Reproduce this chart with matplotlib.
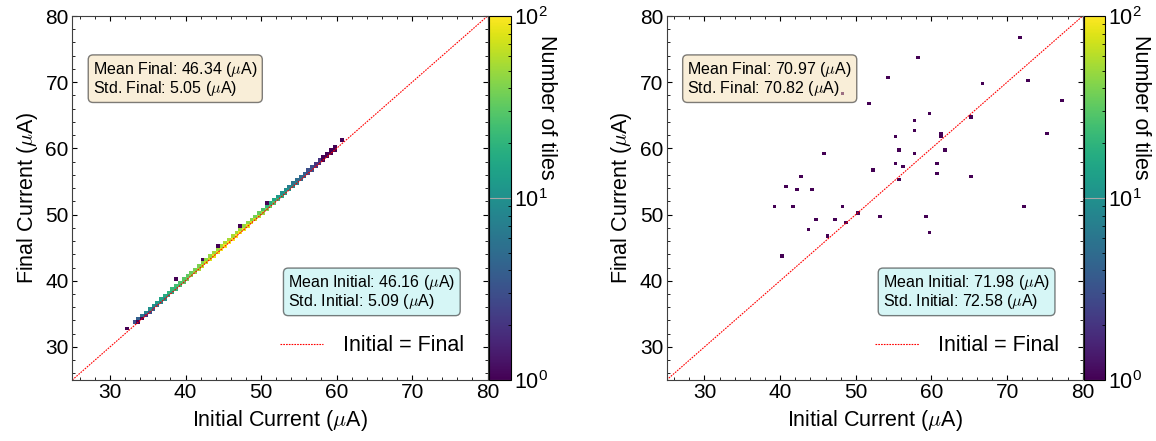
import numpy as np
import matplotlib
matplotlib.use("Agg")
import matplotlib.pyplot as plt
from matplotlib.colors import LogNorm
from matplotlib.ticker import AutoMinorLocator, LogLocator

plt.rcParams['font.family'] = ['Liberation Sans', 'DejaVu Sans']
plt.rcParams['mathtext.fontset'] = 'cm'

# left panel: 2D histogram cells (initial, final, number of tiles)
diag_initial = [33.75, 34.25, 34.75, 35.25, 35.75, 36.25, 36.75, 37.25, 37.75, 38.25,
                38.75, 39.25, 39.75, 40.25, 40.75, 41.25, 41.75, 42.25, 42.75, 43.25,
                43.75, 44.25, 44.75, 45.25, 45.75, 46.25, 46.75, 47.25, 47.75, 48.25,
                48.75, 49.25, 49.75, 50.25, 50.75, 51.25, 51.75, 52.25, 52.75, 53.25,
                53.75, 54.25, 54.75, 55.25, 55.75, 56.25, 56.75, 57.25, 57.75, 58.25,
                58.75, 59.25, 59.75]
diag_final = [33.75, 34.25, 34.75, 35.25, 35.75, 36.25, 36.75, 37.25, 37.75, 38.25,
              38.75, 39.25, 39.75, 40.25, 40.75, 41.25, 41.75, 42.25, 42.75, 43.25,
              43.75, 44.25, 44.75, 45.25, 45.75, 46.25, 46.75, 47.25, 47.75, 48.25,
              48.75, 49.25, 49.75, 50.25, 50.75, 51.25, 51.75, 52.25, 52.75, 53.25,
              53.75, 54.25, 54.75, 55.25, 55.75, 56.25, 56.75, 57.25, 57.75, 58.25,
              58.75, 59.25, 59.75]
diag_counts = [1, 1, 2, 3, 4, 6, 8, 10, 13, 16,
               20, 25, 30, 36, 42, 48, 55, 62, 70, 76,
               82, 88, 92, 96, 98, 98, 96, 92, 88, 82,
               76, 68, 60, 50, 42, 35, 28, 22, 18, 14,
               11, 9, 7, 5, 4, 3, 3, 2, 2, 1,
               1, 1, 1]

upper_initial = [32.25, 33.25, 33.75, 34.25, 34.75, 35.25, 35.75, 36.25, 36.75, 37.25,
                 37.75, 38.25, 38.75, 39.25, 39.75, 40.25, 40.75, 41.25, 41.75, 42.25,
                 42.75, 43.25, 43.75, 44.25, 44.75, 45.25, 45.75, 46.25, 46.75, 47.25,
                 47.75, 48.25, 48.75, 49.25, 49.75, 50.25, 50.75, 51.25, 51.75, 52.25,
                 52.75, 53.25, 53.75, 54.25, 54.75, 55.25, 55.75, 56.25, 56.75, 57.25,
                 57.75, 58.25, 58.75, 59.25, 59.75]
upper_final = [32.75, 33.75, 34.25, 34.75, 35.25, 35.75, 36.25, 36.75, 37.25, 37.75,
               38.25, 38.75, 39.25, 39.75, 40.25, 40.75, 41.25, 41.75, 42.25, 42.75,
               43.25, 43.75, 44.25, 44.75, 45.25, 45.75, 46.25, 46.75, 47.25, 47.75,
               48.25, 48.75, 49.25, 49.75, 50.25, 50.75, 51.25, 51.75, 52.25, 52.75,
               53.25, 53.75, 54.25, 54.75, 55.25, 55.75, 56.25, 56.75, 57.25, 57.75,
               58.25, 58.75, 59.25, 59.75, 60.25]
upper_counts = [1, 3, 4, 6, 8, 10, 11, 13, 15, 17,
                20, 22, 25, 28, 30, 32, 35, 38, 40, 42,
                45, 48, 50, 52, 54, 55, 55, 54, 52, 50,
                48, 45, 42, 38, 34, 26, 22, 18, 15, 12,
                10, 9, 7, 6, 5, 5, 4, 3, 3, 2,
                2, 1, 1, 1, 1]

outlier_initial = [38.75, 42.25, 44.25, 47.25, 50.75, 60.75]
outlier_final = [40.25, 43.25, 45.25, 48.25, 51.75, 61.25]

# right panel: single tiles (initial, final)
right_initial = [71.6, 58.2, 54.2, 72.6, 66.6, 48.1, 77.1, 51.7, 59.7, 65.2,
                 57.7, 57.7, 75.1, 61.2, 61.2, 55.2, 55.7, 61.7, 45.7, 57.7,
                 55.2, 60.7, 56.2, 52.2, 60.7, 65.2, 42.8, 55.7, 40.8, 42.2,
                 44.2, 39.2, 41.7, 48.2, 72.2, 50.2, 53.2, 59.2, 44.7, 47.2,
                 48.7, 43.7, 59.7, 46.2, 40.2]
right_final = [76.7, 73.7, 70.7, 70.2, 69.6, 68.1, 67.2, 66.6, 65.2, 64.6,
               64.2, 62.7, 62.2, 62.1, 61.6, 61.6, 59.6, 59.6, 59.1, 59.1,
               57.6, 57.6, 57.2, 56.6, 56.1, 55.7, 55.7, 55.2, 54.2, 53.7,
               53.7, 51.1, 51.1, 51.1, 51.1, 50.2, 49.6, 49.6, 49.2, 49.2,
               48.7, 47.7, 47.2, 46.6, 43.7]

left_texts = ["Mean Final: 46.34 ($\\mu$A)\nStd. Final: 5.05 ($\\mu$A)",
              "Mean Initial: 46.16 ($\\mu$A)\nStd. Initial: 5.09 ($\\mu$A)"]
right_texts = ["Mean Final: 70.97 ($\\mu$A)\nStd. Final: 70.82 ($\\mu$A)",
               "Mean Initial: 71.98 ($\\mu$A)\nStd. Initial: 72.58 ($\\mu$A)"]

edges = np.arange(25, 80.001, 0.5)

fig = plt.figure(figsize=(11.56, 4.41), dpi=100)
ax_l = fig.add_axes([0.0625, 0.1383, 0.3593, 0.8254])
cax_l = fig.add_axes([0.4230, 0.1383, 0.0190, 0.8254])
ax_r = fig.add_axes([0.5767, 0.1383, 0.3599, 0.8254])
cax_r = fig.add_axes([0.9373, 0.1383, 0.0190, 0.8254])

left_x = diag_initial + upper_initial + outlier_initial
left_y = diag_final + upper_final + outlier_final
left_w = diag_counts + upper_counts + [1] * len(outlier_initial)

panels = [
    (ax_l, cax_l, left_x, left_y, left_w, left_texts),
    (ax_r, cax_r, right_initial, right_final, [1] * len(right_initial), right_texts),
]

for ax, cax, xs, ys, ws, texts in panels:
    h = ax.hist2d(xs, ys, bins=[edges, edges], weights=ws, cmap='viridis',
                  norm=LogNorm(vmin=1, vmax=100), cmin=1)
    ax.plot([25, 80], [25, 80], color='red', linestyle=(0, (1.5, 1)), linewidth=0.8,
            label='Initial = Final')
    ax.set_xlim(25, 80)
    ax.set_ylim(25, 80)
    ax.set_xticks([30, 40, 50, 60, 70, 80])
    ax.set_yticks([30, 40, 50, 60, 70, 80])
    ax.xaxis.set_minor_locator(AutoMinorLocator(5))
    ax.yaxis.set_minor_locator(AutoMinorLocator(5))
    ax.tick_params(which='both', direction='in', top=True, right=True, labelsize=15)
    ax.tick_params(which='major', length=3.5, pad=2.5)
    ax.tick_params(which='minor', length=2)
    for sp in ax.spines.values():
        sp.set_color('0.25')
    ax.set_xlabel('Initial Current ($\\mu$A)', fontsize=15.5, labelpad=4)
    ax.set_ylabel('Final Current ($\\mu$A)', fontsize=15.5)

    ax.text(0.05, 0.88, texts[0], transform=ax.transAxes, fontsize=11.5, va='top', ha='left',
            linespacing=1.0, bbox=dict(boxstyle='round', facecolor='wheat', alpha=0.5))
    ax.text(0.52, 0.19, texts[1], transform=ax.transAxes, fontsize=11.5, va='bottom', ha='left',
            linespacing=1.0, bbox=dict(boxstyle='round', facecolor='paleturquoise', alpha=0.5))
    ax.legend(loc='lower right', frameon=False, fontsize=15.5, borderaxespad=0.7,
              handletextpad=0.9)

    cb = fig.colorbar(h[3], cax=cax)
    cb.ax.yaxis.set_minor_locator(LogLocator(base=10, subs=np.arange(2, 10)))
    cb.ax.tick_params(which='major', direction='in', length=15.8, color='0.65', labelsize=15.5, pad=2)
    cb.ax.tick_params(which='minor', direction='in', length=2.5)
    cb.ax.set_ylabel('Number of tiles', rotation=270, fontsize=15.5, va='center', ha='center')
    cb.ax.yaxis.set_label_coords(2.6, 0.75)

fig.savefig('out.png', dpi=100)
